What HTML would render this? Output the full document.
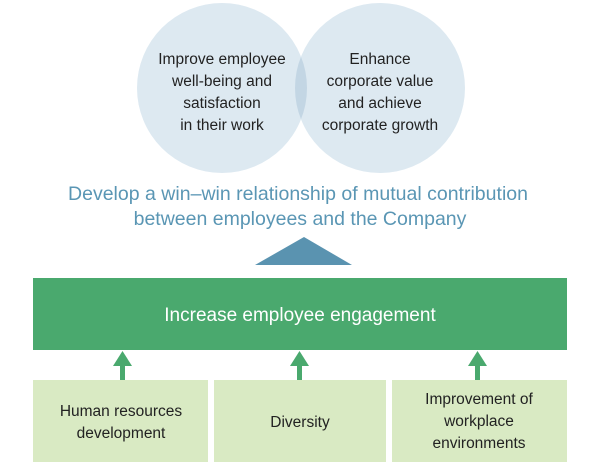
<!DOCTYPE html>
<html><head><style>
body{margin:0;width:600px;height:466px;background:#fff;overflow:hidden;font-family:"Liberation Sans",sans-serif}
svg{display:block}
</style></head><body>
<svg width="600" height="466" viewBox="0 0 600 466">
<circle cx="222" cy="88" r="85" fill="#dde9f1"/>
<circle cx="380" cy="88" r="85" fill="#dde9f1"/>
<clipPath id="c"><circle cx="222" cy="88" r="85"/></clipPath>
<circle cx="380" cy="88" r="85" fill="#c3d6e4" clip-path="url(#c)"/>
<g font-size="15.5" fill="#222" text-anchor="middle">
<text x="222" y="64">Improve employee</text>
<text x="222" y="86">well-being and</text>
<text x="222" y="108">satisfaction</text>
<text x="222" y="130">in their work</text>
<text x="380" y="64">Enhance</text>
<text x="380" y="86">corporate value</text>
<text x="380" y="108">and achieve</text>
<text x="380" y="130">corporate growth</text>
</g>
<g font-size="19.5" fill="#5a96b4" text-anchor="middle">
<text x="298" y="200" textLength="460">Develop a win–win relationship of mutual contribution</text>
<text x="300" y="225">between employees and the Company</text>
</g>
<polygon points="304,237 352,265 255,265" fill="#5a93b0"/>
<rect x="33" y="278" width="534" height="72" fill="#4aa96e"/>
<text x="300" y="321" font-size="19" fill="#fff" text-anchor="middle">Increase employee engagement</text>
<g fill="#4aa96e">
<rect x="120" y="362" width="5" height="18"/><polygon points="122.5,351 132,366 113,366"/>
<rect x="297" y="362" width="5" height="18"/><polygon points="299.5,351 309,366 290,366"/>
<rect x="475" y="362" width="5" height="18"/><polygon points="477.5,351 487,366 468,366"/>
</g>
<g fill="#d9eac3">
<rect x="33" y="380" width="175" height="82"/>
<rect x="214" y="380" width="172" height="82"/>
<rect x="392" y="380" width="175" height="82"/>
</g>
<g font-size="15.5" fill="#222" text-anchor="middle">
<text x="121" y="416">Human resources</text>
<text x="121" y="438">development</text>
<text x="300" y="427">Diversity</text>
<text x="479" y="404">Improvement of</text>
<text x="479" y="426">workplace</text>
<text x="479" y="448">environments</text>
</g>
</svg>
</body></html>
